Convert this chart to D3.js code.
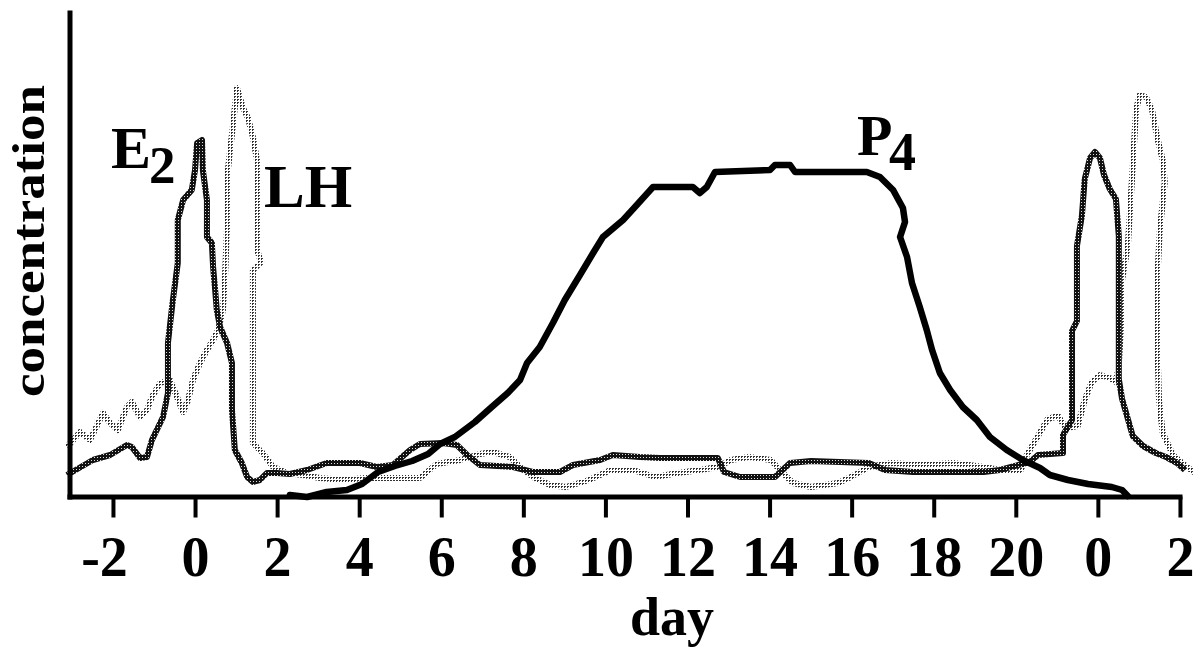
<!DOCTYPE html>
<html>
<head>
<meta charset="utf-8">
<script src="https://cdn.jsdelivr.net/npm/d3@7"></script>
<style>
  html, body { margin: 0; padding: 0; background: #fff; }
  svg { display: block; }
  text { font-family: "Liberation Serif", "Times New Roman", serif; font-weight: bold; fill: #000; }
</style>
</head>
<body>
<svg id="chart" width="1194" height="650"></svg>
<script>
// ---- data (day of cycle, relative concentration) ----
const tickDays   = [-2, 0, 2, 4, 6, 8, 10, 12, 14, 16, 18, 20, 22, 24];
const tickLabels = ["-2", "0", "2", "4", "6", "8", "10", "12", "14", "16", "18", "20", "0", "2"];

const p4Days = [2.31, 2.73, 3.21, 3.70, 4.07, 4.46, 4.87, 5.29, 5.68, 5.97, 6.33, 6.82, 7.23, 7.62, 7.92, 8.09, 8.40, 8.72, 9.01, 9.38, 9.70, 9.94, 10.43, 10.72, 11.16, 12.13, 12.30, 12.47, 12.67, 14.01, 14.13, 14.50, 14.62, 16.37, 16.69, 17.01, 17.25, 17.30, 17.18, 17.35, 17.47, 17.66, 17.83, 17.96, 18.15, 18.40, 18.71, 19.05, 19.37, 19.78, 20.17, 20.59, 20.83, 21.27, 21.76, 22.34, 22.59, 22.73];
const p4Values = [-1, -3, 2, 4, 10, 22, 28, 33, 40, 50, 57, 72, 87, 101, 114, 131, 147, 171, 194, 219, 241, 257, 274, 287, 307, 307, 301, 307, 322, 324, 329, 329, 322, 322, 317, 304, 286, 272, 257, 237, 211, 187, 164, 144, 121, 104, 87, 74, 57, 44, 34, 26, 19, 14, 10, 7, 4, -2];

const e2Days = [-3.12, -2.49, -2.07, -1.66, -1.54, -1.34, -1.17, -1.05, -0.78, -0.66, -0.66, -0.54, -0.42, -0.42, -0.29, -0.08, 0.00, 0.05, 0.17, 0.19, 0.29, 0.29, 0.41, 0.44, 0.49, 0.53, 0.61, 0.78, 0.90, 0.90, 0.97, 1.14, 1.27, 1.41, 1.58, 1.75, 2.00, 2.31, 2.73, 3.21, 4.02, 4.43, 4.82, 5.24, 5.48, 6.04, 6.38, 6.63, 6.94, 7.75, 8.23, 8.89, 9.21, 9.87, 10.18, 10.84, 11.33, 12.30, 12.74, 12.89, 13.28, 14.13, 14.50, 15.01, 16.42, 16.81, 17.49, 19.22, 19.61, 20.34, 20.54, 21.15, 21.15, 21.37, 21.37, 21.49, 21.49, 21.61, 21.68, 21.81, 21.93, 22.05, 22.15, 22.29, 22.44, 22.51, 22.51, 22.59, 22.71, 22.85, 23.10, 23.41, 23.66, 23.93, 24.12];
const e2Values = [19, 34, 39, 49, 47, 36, 37, 54, 77, 101, 151, 194, 231, 274, 294, 304, 324, 351, 354, 324, 294, 257, 251, 227, 204, 184, 167, 151, 131, 84, 44, 31, 17, 12, 14, 21, 21, 20, 24, 31, 31, 27, 29, 44, 50, 51, 49, 39, 29, 27, 22, 22, 29, 34, 39, 37, 36, 36, 36, 22, 17, 17, 31, 33, 31, 24, 22, 22, 24, 32, 39, 41, 59, 74, 163, 173, 248, 278, 315, 336, 342, 336, 319, 305, 295, 258, 115, 95, 78, 58, 48, 41, 37, 31, 24];

const lhDays = [-3.12, -2.80, -2.56, -2.24, -2.07, -1.88, -1.66, -1.54, -1.34, -1.17, -1.05, -0.85, -0.61, -0.44, -0.29, -0.17, -0.05, 0.12, 0.29, 0.44, 0.56, 0.68, 0.73, 0.78, 0.80, 0.92, 1.02, 1.17, 1.29, 1.41, 1.51, 1.51, 1.61, 1.41, 1.41, 1.65, 1.90, 2.24, 2.63, 3.04, 3.60, 4.14, 4.82, 5.48, 5.89, 6.46, 6.94, 7.26, 7.67, 7.92, 8.23, 8.65, 9.04, 9.60, 10.13, 10.67, 11.21, 11.77, 12.30, 12.74, 13.06, 13.50, 14.03, 14.25, 14.57, 15.01, 15.67, 15.98, 16.42, 16.96, 17.71, 18.47, 19.22, 19.61, 20.12, 20.27, 20.54, 20.78, 21.03, 21.22, 21.51, 21.68, 21.85, 22.05, 22.29, 22.44, 22.51, 22.56, 22.59, 22.73, 22.83, 22.93, 23.02, 23.17, 23.32, 23.46, 23.58, 23.63, 23.51, 23.44, 23.46, 23.49, 23.58, 23.83, 24.17, 24.41];
const lhValues = [47, 62, 54, 81, 71, 64, 87, 92, 77, 84, 97, 111, 114, 97, 82, 94, 114, 131, 144, 154, 164, 184, 217, 267, 324, 367, 406, 386, 376, 357, 334, 244, 232, 224, 51, 41, 27, 21, 19, 16, 14, 16, 16, 16, 30, 34, 40, 42, 37, 27, 17, 9, 7, 14, 24, 24, 17, 21, 24, 27, 34, 37, 34, 24, 11, 7, 11, 17, 27, 31, 29, 31, 27, 24, 24, 39, 58, 75, 78, 66, 68, 94, 112, 119, 116, 112, 129, 164, 214, 248, 314, 384, 399, 397, 384, 354, 334, 312, 264, 210, 134, 94, 61, 39, 27, 20];

const zip = (xs, ys) => xs.map((d, i) => [d, ys[i]]);

// ---- drawing ----
const svg = d3.select("#chart");
const x = d3.scaleLinear().domain([-3.12, 24.05]).range([67, 1182]);
const y = d3.scaleLinear().domain([-5, 484]).range([499, 10]);

const defs = svg.append("defs");
// E2: dark checkered texture
const pE2 = defs.append("pattern").attr("id", "e2pat").attr("patternUnits", "userSpaceOnUse")
  .attr("width", 3).attr("height", 3);
pE2.append("rect").attr("width", 3).attr("height", 3).attr("fill", "#111");
pE2.append("rect").attr("x", 1).attr("y", 1).attr("width", 1).attr("height", 1).attr("fill", "#ddd");
// LH: light stippled texture
const pLH = defs.append("pattern").attr("id", "lhpat").attr("patternUnits", "userSpaceOnUse")
  .attr("width", 3).attr("height", 3);
pLH.append("rect").attr("width", 3).attr("height", 3).attr("fill", "#fff");
pLH.append("rect").attr("x", 0).attr("y", 0).attr("width", 2).attr("height", 1).attr("fill", "#333");
pLH.append("rect").attr("x", 0).attr("y", 1).attr("width", 1).attr("height", 1).attr("fill", "#333");

const line = d3.line().x(d => x(d[0])).y(d => y(d[1]));

svg.append("path").datum(zip(lhDays, lhValues)).attr("d", line)
  .attr("fill", "none").attr("stroke", "url(#lhpat)").attr("stroke-width", 6)
  .attr("stroke-linejoin", "round");
svg.append("path").datum(zip(e2Days, e2Values)).attr("d", line)
  .attr("fill", "none").attr("stroke", "url(#e2pat)").attr("stroke-width", 6)
  .attr("stroke-linejoin", "round");
svg.append("path").datum(zip(p4Days, p4Values)).attr("d", line)
  .attr("fill", "none").attr("stroke", "#000").attr("stroke-width", 6.5)
  .attr("stroke-linejoin", "round").attr("stroke-linecap", "round");

// x axis
const xAxis = d3.axisBottom(x).tickValues(tickDays)
  .tickFormat((d, i) => tickLabels[i]).tickSize(21).tickSizeOuter(0);
const gx = svg.append("g").attr("transform", "translate(0,496.5)").call(xAxis);
gx.select(".domain").attr("stroke", "#000").attr("stroke-width", 5);
gx.selectAll(".tick line").attr("stroke", "#000").attr("stroke-width", 4);
gx.selectAll(".tick text")
  .attr("y", 79.5).attr("dy", 0)
  .attr("dx", (d, i) => tickLabels[i].startsWith("-") ? -9 : 0)
  .style("font-family", "'Liberation Serif', 'Times New Roman', serif")
  .style("font-weight", "bold").style("font-size", "56px").attr("fill", "#000");

// y axis (no ticks)
const yAxis = d3.axisLeft(y).tickValues([]).tickSizeOuter(0);
const gy = svg.append("g").attr("transform", "translate(69.5,0)").call(yAxis);
gy.select(".domain").attr("stroke", "#000").attr("stroke-width", 5);

// axis titles
svg.append("text").attr("x", 672).attr("y", 635).attr("text-anchor", "middle")
  .style("font-size", "54px").text("day");
svg.append("text").attr("transform", "translate(44,241) rotate(-90)")
  .attr("text-anchor", "middle").style("font-size", "47px")
  .attr("textLength", 312).attr("lengthAdjust", "spacingAndGlyphs").text("concentration");

// series labels
svg.append("text").attr("x", 111).attr("y", 168).style("font-size", "60px").text("E");
svg.append("text").attr("x", 149).attr("y", 183).style("font-size", "53px").text("2");
svg.append("text").attr("x", 264).attr("y", 207).style("font-size", "61px").text("LH");
svg.append("text").attr("x", 857).attr("y", 155).style("font-size", "58px").text("P");
svg.append("text").attr("x", 889).attr("y", 170).style("font-size", "54px").text("4");
</script>
</body>
</html>
